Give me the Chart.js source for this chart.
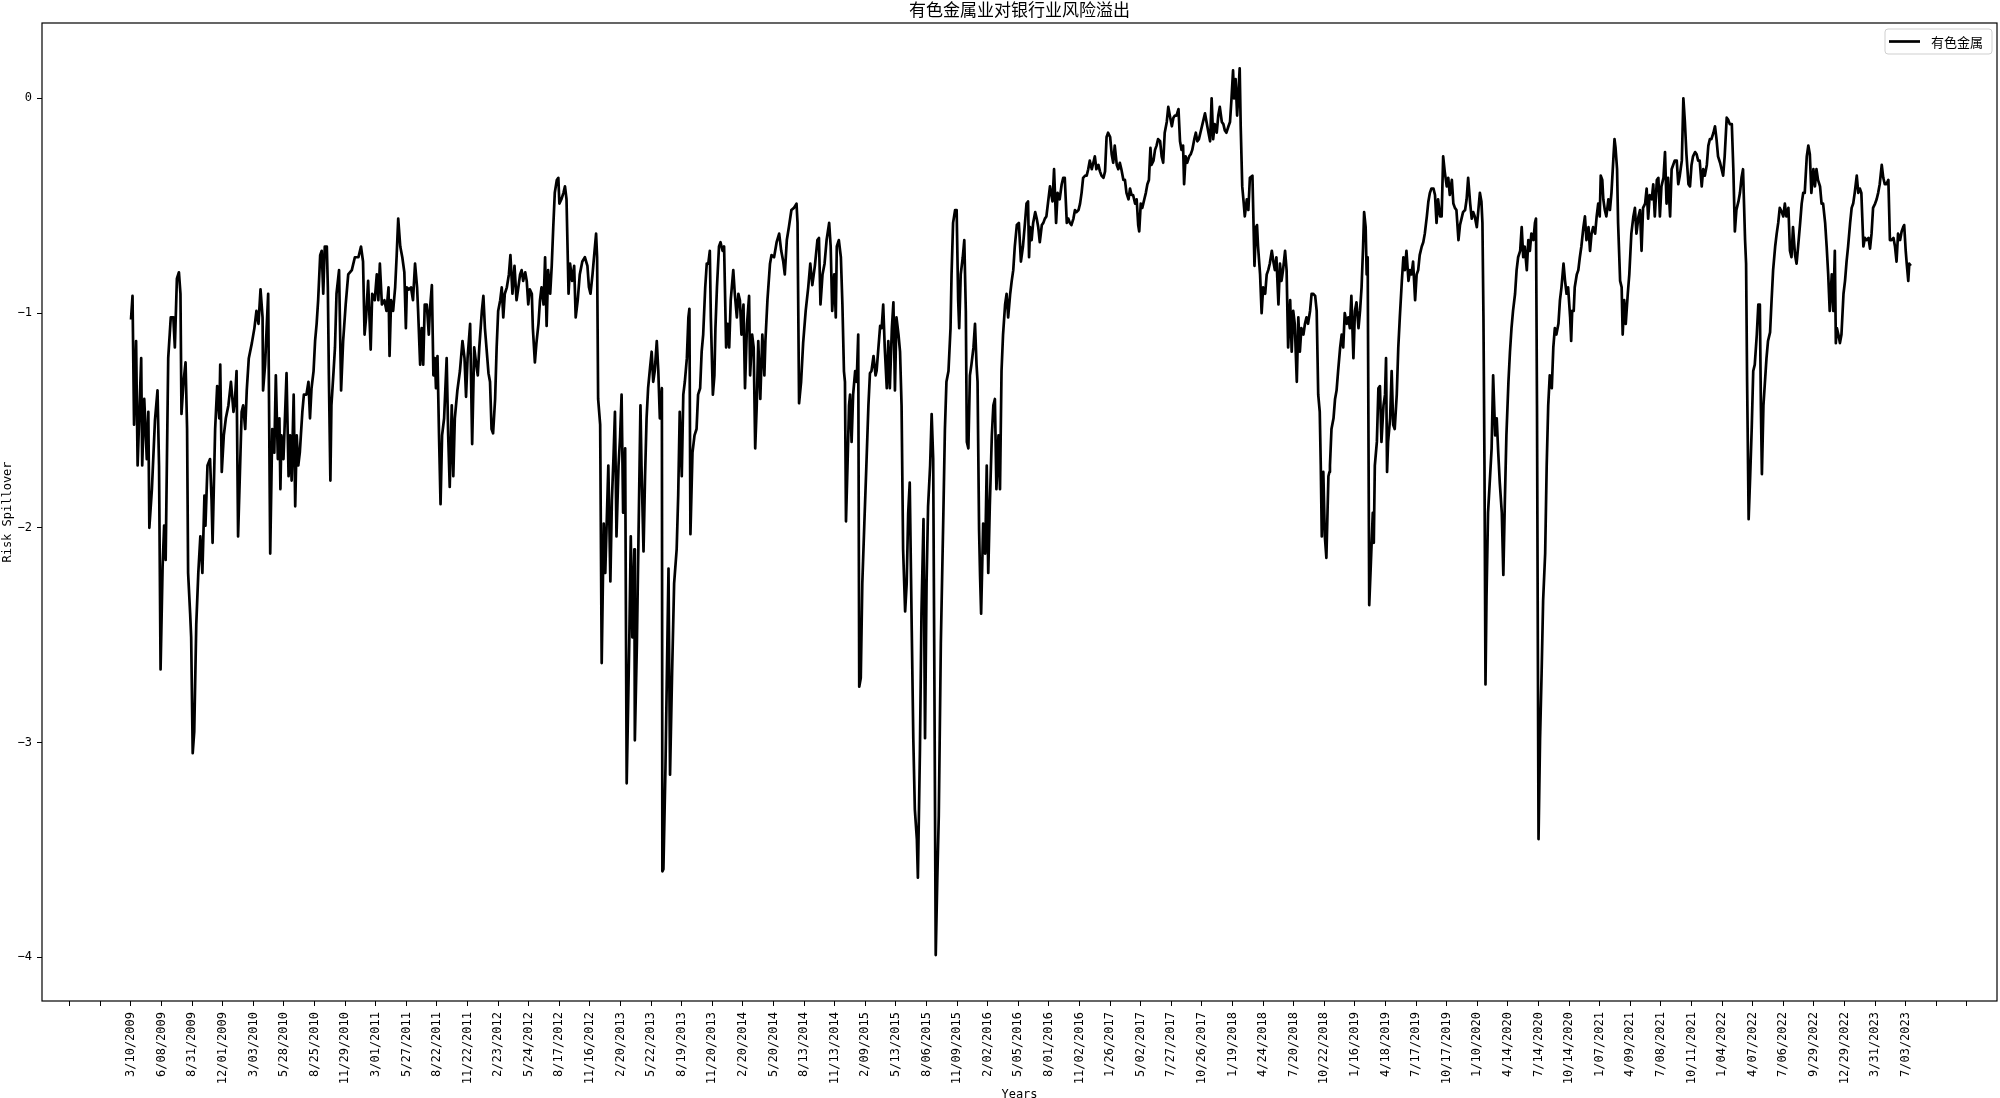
<!DOCTYPE html>
<html>
<head>
<meta charset="utf-8">
<title>有色金属业对银行业风险溢出</title>
<script src="https://cdn.jsdelivr.net/npm/chart.js@4.4.1/dist/chart.umd.min.js"></script>
<style>
  html, body { margin: 0; padding: 0; background: #fff; }
  #wrap { width: 2000px; height: 1098px; }
</style>
</head>
<body>
<div id="wrap"><canvas id="spilloverChart" width="2000" height="1098"></canvas></div>
<script>
// quarterly tick labels, one every 60 trading days starting at day 0
const dateLabels = [
    '3/10/2009', '6/08/2009', '8/31/2009', '12/01/2009', '3/03/2010', '5/28/2010', '8/25/2010', '11/29/2010',
    '3/01/2011', '5/27/2011', '8/22/2011', '11/22/2011', '2/23/2012', '5/24/2012', '8/17/2012', '11/16/2012',
    '2/20/2013', '5/22/2013', '8/19/2013', '11/20/2013', '2/20/2014', '5/20/2014', '8/13/2014', '11/13/2014',
    '2/09/2015', '5/13/2015', '8/06/2015', '11/09/2015', '2/02/2016', '5/05/2016', '8/01/2016', '11/02/2016',
    '1/26/2017', '5/02/2017', '7/27/2017', '10/26/2017', '1/19/2018', '4/24/2018', '7/20/2018', '10/22/2018',
    '1/16/2019', '4/18/2019', '7/17/2019', '10/17/2019', '1/10/2020', '4/14/2020', '7/14/2020', '10/14/2020',
    '1/07/2021', '4/09/2021', '7/08/2021', '10/11/2021', '1/04/2022', '4/07/2022', '7/06/2022', '9/29/2022',
    '12/29/2022', '3/31/2023', '7/03/2023'
];
const tickEvery = 60;

// trading-day index / spillover value (2009-2011)
const days1 = [
    0,3,6,10,13,20,22,26,31,34,
    36,41,47,52,55,58,62,65,68,73,
    78,83,86,90,94,97,99,103,107,110,
    112,116,118,121,124,128,132,136,140,144,
    146,150,155,158,160,165,169,173,175,178,
    182,186,191,196,201,204,207,210,214,217,
    220,224,227,231,237,242,246,250,254,258,
    259,263,266,269,273,277,281,284,288,291,
    293,295,299,305,309,312,315,319,322,325,
    328,331,336,339,344,348,351,354,358,361,
    364,367,371,374,377,380,384,386,388,391,
    393,397,400,403,408,412,416,421,426,433,
    439,446,451,455,458,461,465,470,473,478,
    482,485,488,492,497,501,505,507,510,514,
    518,521,524,528,532,536,539,541,545,549,
    553,557,561,563,567,570,573,576,580,584
];
const vals1 = [
    -1.03,-0.92,-1.52,-1.13,-1.71,-1.21,-1.71,-1.40,-1.68,-1.46,
    -2.00,-1.82,-1.50,-1.36,-1.71,-2.66,-2.18,-1.99,-2.15,-1.21,
    -1.02,-1.02,-1.16,-0.84,-0.81,-0.91,-1.47,-1.32,-1.23,-1.54,
    -2.21,-2.40,-2.51,-3.05,-2.95,-2.45,-2.21,-2.04,-2.21,-1.85,
    -1.99,-1.71,-1.68,-1.87,-2.07,-1.54,-1.34,-1.49,-1.24,-1.74,
    -1.57,-1.49,-1.43,-1.32,-1.46,-1.40,-1.27,-2.04,-1.71,-1.46,
    -1.43,-1.54,-1.36,-1.21,-1.14,-1.07,-0.99,-1.05,-0.89,-1.02,
    -1.36,-1.24,-1.07,-0.91,-2.12,-1.54,-1.65,-1.29,-1.68,-1.49,
    -1.82,-1.57,-1.68,-1.28,-1.76,-1.57,-1.78,-1.38,-1.90,-1.57,
    -1.71,-1.65,-1.46,-1.38,-1.38,-1.32,-1.49,-1.35,-1.27,-1.13,
    -1.05,-0.94,-0.73,-0.71,-0.91,-0.69,-0.69,-0.88,-1.29,-1.78,
    -1.43,-1.28,-1.16,-0.91,-0.80,-1.36,-1.13,-0.96,-0.82,-0.80,
    -0.74,-0.74,-0.69,-0.76,-1.10,-1.02,-0.85,-1.17,-0.91,-0.94,
    -0.82,-0.94,-0.77,-0.96,-0.94,-0.99,-0.88,-1.20,-0.94,-0.99,
    -0.88,-0.73,-0.56,-0.69,-0.74,-0.81,-1.07,-0.88,-0.89,-0.88,
    -0.94,-0.77,-0.88,-0.99,-1.24,-1.07,-1.24,-0.96,-0.96,-1.10
];

// 2011-2013
const days2 = [
    586,590,593,596,598,601,604,607,610,614,
    619,622,625,629,632,635,640,645,650,654,
    657,660,665,669,673,677,680,683,688,691,
    694,697,701,704,707,710,714,717,720,724,
    727,730,733,737,741,744,748,752,756,759,
    763,766,769,773,776,779,782,786,788,792,
    795,799,802,805,809,812,815,818,822,825,
    828,831,835,838,840,844,848,851,854,858,
    861,865,869,872,876,880,885,890,895,898,
    901,905,909,912,914,916,920,923,927,930,
    933,936,940,943,946,949,952,956,959,962,
    965,969,972,977,980,983,987,988,992,995,
    999,1001,1005,1008,1011,1014,1018,1021,1024,1027,
    1031,1034,1037,1041,1042,1044,1048,1054,1057,1061,
    1065,1070,1073,1076,1080,1083,1086,1090,1093,1095,
    1097,1101,1105,1109,1112,1116,1119,1122,1126,1129,
    1132,1135,1137,1141,1144,1146,1149,1153,1156,1160,
    1163
];
const vals2 = [
    -0.99,-0.87,-1.29,-1.21,-1.35,-1.20,-1.57,-1.89,-1.57,-1.49,
    -1.21,-1.57,-1.81,-1.43,-1.76,-1.49,-1.36,-1.27,-1.13,-1.21,
    -1.39,-1.21,-1.05,-1.61,-1.16,-1.24,-1.29,-1.16,-0.99,-0.92,
    -1.07,-1.16,-1.28,-1.32,-1.54,-1.56,-1.40,-1.16,-0.99,-0.94,
    -0.88,-1.02,-0.91,-0.88,-0.82,-0.73,-0.91,-0.78,-0.94,-0.89,
    -0.82,-0.80,-0.85,-0.81,-0.85,-0.96,-0.89,-0.91,-1.07,-1.23,
    -1.14,-1.05,-0.94,-0.88,-0.96,-0.74,-1.06,-0.80,-0.91,-0.78,
    -0.60,-0.44,-0.38,-0.37,-0.49,-0.47,-0.44,-0.41,-0.47,-0.91,
    -0.77,-0.85,-0.78,-1.02,-0.94,-0.82,-0.76,-0.74,-0.78,-0.88,
    -0.91,-0.82,-0.71,-0.63,-0.74,-1.40,-1.52,-2.63,-1.98,-2.21,
    -1.96,-1.71,-2.25,-1.87,-1.68,-1.46,-2.04,-1.71,-1.58,-1.38,
    -1.93,-1.63,-3.19,-2.54,-2.04,-2.51,-2.10,-2.99,-2.54,-2.07,
    -1.43,-1.71,-2.11,-1.76,-1.49,-1.35,-1.25,-1.18,-1.32,-1.27,
    -1.13,-1.27,-1.49,-1.35,-3.60,-3.59,-3.12,-2.19,-3.15,-2.68,
    -2.26,-2.10,-1.85,-1.46,-1.76,-1.38,-1.32,-1.21,-1.02,-0.98,
    -2.03,-1.65,-1.57,-1.54,-1.38,-1.35,-1.18,-1.10,-0.88,-0.77,
    -0.77,-0.71,-1.02,-1.38,-1.29,-1.07,-0.88,-0.69,-0.67,-0.71,
    -0.69
];

// 2013-2016
const days3 = [
    1167,1170,1173,1176,1181,1184,1188,1191,1194,1197,
    1201,1204,1208,1212,1214,1218,1221,1224,1227,1230,
    1234,1238,1242,1244,1248,1253,1256,1261,1266,1271,
    1275,1279,1282,1286,1290,1295,1300,1305,1307,1310,
    1314,1318,1323,1328,1332,1336,1341,1346,1349,1352,
    1356,1360,1364,1369,1372,1375,1379,1382,1384,1388,
    1392,1395,1398,1400,1402,1405,1408,1410,1413,1416,
    1420,1423,1426,1428,1431,1434,1438,1442,1446,1449,
    1452,1456,1460,1462,1465,1469,1472,1475,1478,1482,
    1485,1488,1492,1495,1498,1501,1505,1508,1511,1514,
    1518,1521,1524,1527,1531,1534,1537,1541,1543,1547,
    1550,1554,1557,1560,1563,1567,1570,1573,1575,1578,
    1581,1584,1588,1593,1596,1599,1603,1607,1609,1612,
    1616,1619,1622,1624,1627,1631,1634,1637,1639,1642,
    1645,1648,1652,1655,1658,1660,1663,1665,1667,1671,
    1675,1678,1681,1684,1688,1691,1694,1697,1701,1704,
    1707,1710,1714,1717,1720,1724,1727,1730,1733,1737,
    1741,1745,1749,1753,1756,1759,1761
];
const vals3 = [
    -1.16,-1.05,-1.16,-0.94,-0.80,-0.91,-1.02,-0.91,-0.94,-1.10,
    -0.96,-1.35,-1.05,-0.92,-1.29,-1.10,-1.16,-1.63,-1.43,-1.13,
    -1.40,-1.10,-1.29,-1.13,-0.94,-0.77,-0.73,-0.74,-0.67,-0.63,
    -0.71,-0.76,-0.82,-0.66,-0.60,-0.52,-0.51,-0.49,-0.58,-1.42,
    -1.32,-1.14,-0.99,-0.88,-0.77,-0.87,-0.78,-0.66,-0.65,-0.96,
    -0.82,-0.77,-0.66,-0.58,-0.69,-0.99,-0.82,-1.02,-0.69,-0.66,
    -0.74,-0.96,-1.27,-1.32,-1.97,-1.71,-1.43,-1.38,-1.60,-1.38,
    -1.27,-1.32,-1.10,-2.74,-2.70,-2.26,-1.98,-1.71,-1.43,-1.28,
    -1.27,-1.20,-1.29,-1.27,-1.18,-1.06,-1.07,-0.96,-1.16,-1.35,
    -1.13,-1.35,-1.07,-0.95,-1.36,-1.02,-1.10,-1.18,-1.43,-2.10,
    -2.39,-2.26,-1.93,-1.79,-2.48,-2.98,-3.31,-3.45,-3.63,-3.04,
    -2.40,-1.96,-2.98,-2.26,-1.90,-1.71,-1.47,-1.68,-2.54,-3.99,
    -3.64,-3.34,-2.54,-1.93,-1.54,-1.32,-1.27,-1.07,-0.82,-0.58,
    -0.52,-0.52,-0.94,-1.07,-0.82,-0.74,-0.66,-0.99,-1.60,-1.63,
    -1.29,-1.24,-1.16,-1.05,-1.24,-1.32,-2.01,-2.23,-2.40,-1.98,
    -2.12,-1.71,-2.21,-1.90,-1.57,-1.43,-1.40,-1.82,-1.57,-1.82,
    -1.27,-1.10,-0.96,-0.91,-1.02,-0.91,-0.85,-0.80,-0.69,-0.59,
    -0.58,-0.76,-0.69,-0.58,-0.49,-0.48,-0.74
];

// 2016-2018
const days4 = [
    1763,1766,1769,1773,1776,1779,1782,1786,1789,1792,
    1795,1799,1802,1807,1810,1814,1817,1821,1825,1828,
    1831,1835,1838,1841,1844,1848,1851,1854,1858,1861,
    1864,1867,1871,1874,1877,1880,1884,1887,1890,1893,
    1897,1900,1903,1907,1910,1913,1916,1920,1923,1926,
    1929,1933,1936,1939,1942,1946,1949,1952,1956,1959,
    1962,1965,1969,1972,1975,1977,1980,1983,1987,1990,
    1993,1996,1999,2001,2005,2008,2011,2014,2018,2021,
    2024,2027,2031,2034,2037,2041,2044,2047,2050,2054,
    2057,2060,2063,2065,2068,2071,2075,2078,2081,2085,
    2088,2091,2094,2097,2101,2106,2109,2112,2116,2119,
    2122,2125,2129,2132,2135,2139,2142,2145,2148,2152,
    2155,2158,2161,2163,2166,2169,2171,2174,2176,2179,
    2182,2184,2188,2191,2194,2199,2203,2206,2208,2210,
    2214,2217,2220,2224,2227,2230,2233,2237,2240,2243,
    2246,2250,2253,2256,2259,2263,2266,2269,2273,2276,
    2279,2282,2286,2289,2292,2295,2299,2302,2305,2308,
    2312,2315,2318,2322,2325,2328,2331,2333,2335,2338,
    2341,2344,2348,2350
];
const vals4 = [
    -0.60,-0.66,-0.58,-0.53,-0.56,-0.60,-0.67,-0.59,-0.58,-0.56,
    -0.55,-0.47,-0.41,-0.48,-0.33,-0.58,-0.44,-0.47,-0.40,-0.37,
    -0.37,-0.58,-0.56,-0.58,-0.59,-0.56,-0.52,-0.53,-0.52,-0.49,
    -0.44,-0.37,-0.36,-0.36,-0.33,-0.29,-0.33,-0.30,-0.27,-0.33,
    -0.31,-0.34,-0.36,-0.37,-0.34,-0.18,-0.16,-0.18,-0.26,-0.30,
    -0.22,-0.31,-0.33,-0.30,-0.33,-0.38,-0.38,-0.44,-0.47,-0.42,
    -0.45,-0.45,-0.49,-0.47,-0.59,-0.62,-0.49,-0.51,-0.47,-0.44,
    -0.40,-0.38,-0.23,-0.31,-0.29,-0.24,-0.22,-0.19,-0.20,-0.27,
    -0.30,-0.16,-0.11,-0.04,-0.08,-0.13,-0.09,-0.08,-0.08,-0.05,
    -0.20,-0.24,-0.22,-0.40,-0.27,-0.30,-0.27,-0.26,-0.24,-0.19,
    -0.16,-0.20,-0.19,-0.16,-0.12,-0.07,-0.11,-0.15,-0.20,0.00,
    -0.19,-0.12,-0.16,-0.08,-0.04,-0.11,-0.12,-0.15,-0.16,-0.13,
    -0.11,0.00,0.13,0.00,0.09,-0.08,0.00,0.14,-0.13,-0.41,
    -0.49,-0.55,-0.47,-0.52,-0.37,-0.36,-0.78,-0.60,-0.59,-0.69,
    -0.82,-1.00,-0.88,-0.91,-0.82,-0.80,-0.77,-0.71,-0.76,-0.80,
    -0.74,-0.96,-0.77,-0.85,-0.80,-0.71,-0.80,-1.16,-0.94,-1.18,
    -0.99,-1.05,-1.32,-1.02,-1.18,-1.07,-1.10,-1.05,-1.02,-1.05,
    -0.99,-0.91,-0.91,-0.92,-0.99,-1.38,-1.46,-1.71,-2.04,-1.74,
    -2.04,-2.14,-1.76,-1.74
];

// 2018-2021
const days5 = [
    2351,2354,2358,2361,2364,2367,2371,2374,2377,2380,
    2384,2387,2390,2393,2397,2400,2403,2407,2410,2413,
    2416,2418,2421,2423,2425,2428,2431,2435,2437,2439,
    2443,2446,2449,2452,2456,2459,2461,2463,2465,2469,
    2472,2475,2478,2482,2485,2488,2492,2495,2498,2501,
    2505,2508,2511,2514,2518,2521,2524,2527,2531,2534,
    2537,2541,2544,2547,2550,2554,2557,2560,2563,2567,
    2570,2573,2576,2580,2583,2586,2590,2593,2596,2599,
    2603,2606,2609,2612,2616,2619,2622,2626,2629,2632,
    2635,2639,2642,2645,2648,2650,2652,2654,2656,2658,
    2661,2665,2668,2671,2675,2678,2681,2684,2688,2691,
    2694,2697,2701,2704,2707,2710,2714,2717,2720,2724,
    2727,2730,2733,2737,2740,2743,2746,2750,2753,2755,
    2757,2760,2763,2766,2769,2773,2776,2779,2782,2786,
    2789,2792,2795,2799,2802,2805,2809,2812,2815,2818,
    2822,2824,2826,2829,2831,2835,2838,2841,2844,2848,
    2851,2854,2858,2861,2864,2867,2871,2874,2877,2880,
    2882,2885,2887,2890,2893,2897,2900,2903,2907,2909,
    2911,2914,2916,2920,2923,2925,2928,2931,2935,2938
];
const vals5 = [
    -1.71,-1.54,-1.49,-1.40,-1.36,-1.27,-1.16,-1.10,-1.16,-1.00,
    -1.05,-1.02,-1.07,-0.92,-1.21,-0.99,-0.95,-1.07,-0.99,-0.88,
    -0.69,-0.53,-0.60,-0.82,-0.74,-2.36,-2.18,-1.93,-2.07,-1.71,
    -1.60,-1.35,-1.34,-1.60,-1.43,-1.38,-1.21,-1.74,-1.60,-1.49,
    -1.27,-1.52,-1.54,-1.38,-1.16,-1.02,-0.85,-0.74,-0.80,-0.71,
    -0.85,-0.80,-0.82,-0.76,-0.94,-0.82,-0.80,-0.73,-0.69,-0.67,
    -0.63,-0.55,-0.48,-0.44,-0.42,-0.42,-0.45,-0.58,-0.47,-0.55,
    -0.55,-0.27,-0.34,-0.41,-0.37,-0.45,-0.38,-0.49,-0.51,-0.52,
    -0.66,-0.59,-0.56,-0.53,-0.52,-0.47,-0.37,-0.49,-0.56,-0.53,
    -0.55,-0.60,-0.52,-0.44,-0.48,-0.58,-1.02,-1.71,-2.73,-2.32,
    -1.93,-1.76,-1.63,-1.29,-1.57,-1.49,-1.65,-1.79,-1.93,-2.22,
    -1.87,-1.57,-1.32,-1.18,-1.07,-0.99,-0.91,-0.80,-0.74,-0.71,
    -0.60,-0.74,-0.69,-0.80,-0.66,-0.71,-0.63,-0.66,-0.58,-0.56,
    -1.43,-3.45,-2.98,-2.68,-2.34,-2.12,-1.71,-1.43,-1.29,-1.35,
    -1.16,-1.07,-1.10,-1.05,-0.94,-0.88,-0.77,-0.85,-0.91,-0.88,
    -1.02,-1.13,-0.99,-0.99,-0.88,-0.82,-0.80,-0.74,-0.69,-0.60,
    -0.55,-0.66,-0.60,-0.71,-0.63,-0.60,-0.63,-0.55,-0.49,-0.55,
    -0.36,-0.38,-0.47,-0.52,-0.55,-0.47,-0.52,-0.44,-0.27,-0.19,
    -0.23,-0.33,-0.58,-0.85,-0.88,-1.10,-0.94,-1.05,-0.91,-0.82
];

// 2021-2023
const days6 = [
    2942,2946,2949,2952,2956,2959,2962,2965,2969,2972,
    2975,2978,2982,2985,2988,2992,2995,2998,3001,3005,
    3008,3011,3014,3018,3021,3024,3027,3031,3034,3037,
    3041,3044,3047,3050,3054,3057,3060,3063,3067,3070,
    3073,3076,3080,3083,3086,3090,3093,3096,3099,3103,
    3106,3109,3112,3116,3119,3122,3125,3129,3132,3135,
    3139,3142,3145,3148,3152,3155,3158,3161,3165,3167,
    3169,3172,3175,3178,3181,3184,3188,3191,3194,3196,
    3198,3201,3204,3207,3210,3214,3217,3220,3224,3227,
    3230,3233,3237,3240,3243,3246,3250,3253,3256,3259,
    3263,3266,3269,3273,3276,3279,3282,3286,3289,3292,
    3295,3299,3302,3305,3308,3312,3315,3318,3322,3325,
    3328,3331,3335,3338,3341,3343,3345,3348,3351,3354,
    3358,3361,3364,3367,3371,3374,3377,3380,3384,3387,
    3390,3393,3397,3400,3403,3407,3410,3413,3416,3420,
    3423,3426,3429,3433,3436,3439,3442,3446,3449,3452,
    3456,3459,3462,3465,3469,3472,3475,3477,3480,3482,
    3485,3487,3490
];
const vals6 = [
    -0.63,-0.55,-0.51,-0.63,-0.55,-0.52,-0.71,-0.51,-0.49,-0.42,
    -0.56,-0.45,-0.47,-0.40,-0.55,-0.38,-0.37,-0.55,-0.41,-0.37,
    -0.25,-0.49,-0.37,-0.55,-0.33,-0.31,-0.29,-0.29,-0.40,-0.36,
    -0.29,0.00,-0.11,-0.26,-0.40,-0.41,-0.31,-0.27,-0.25,-0.26,
    -0.29,-0.29,-0.41,-0.33,-0.36,-0.31,-0.22,-0.19,-0.19,-0.16,
    -0.13,-0.19,-0.27,-0.30,-0.33,-0.36,-0.27,-0.09,-0.10,-0.12,
    -0.12,-0.33,-0.62,-0.52,-0.48,-0.44,-0.37,-0.33,-0.66,-0.77,
    -1.32,-1.96,-1.76,-1.54,-1.27,-1.24,-1.10,-0.96,-0.96,-1.43,
    -1.75,-1.43,-1.32,-1.21,-1.13,-1.09,-0.94,-0.80,-0.69,-0.63,
    -0.58,-0.51,-0.53,-0.55,-0.49,-0.55,-0.51,-0.71,-0.74,-0.60,
    -0.73,-0.77,-0.69,-0.58,-0.49,-0.44,-0.44,-0.27,-0.22,-0.26,
    -0.44,-0.33,-0.41,-0.33,-0.38,-0.41,-0.49,-0.49,-0.58,-0.69,
    -0.82,-0.99,-0.82,-0.99,-0.71,-1.14,-1.07,-1.10,-1.14,-1.10,
    -0.91,-0.85,-0.76,-0.69,-0.58,-0.51,-0.49,-0.44,-0.36,-0.44,
    -0.42,-0.44,-0.69,-0.65,-0.66,-0.65,-0.70,-0.63,-0.51,-0.49,
    -0.47,-0.44,-0.40,-0.31,-0.37,-0.40,-0.40,-0.38,-0.66,-0.66,
    -0.65,-0.69,-0.76,-0.63,-0.66,-0.62,-0.60,-0.59,-0.71,-0.77,
    -0.85,-0.77,-0.78
];

const tradingDay = days1.concat(days2, days3, days4, days5, days6);
const spillover = vals1.concat(vals2, vals3, vals4, vals5, vals6);

const MONO = 'DejaVu Sans Mono';
const CJK = '"Noto Sans CJK SC", "Noto Sans CJK JP", sans-serif';

// matplotlib-style closed frame around the plot area
const framePlugin = {
    id: 'frame',
    afterDatasetsDraw(chart) {
        const {ctx, chartArea: a} = chart;
        ctx.save();
        ctx.strokeStyle = '#000';
        ctx.lineWidth = 1.2;
        ctx.strokeRect(a.left, a.top, a.right - a.left, a.bottom - a.top);
        ctx.restore();
    }
};

// title centred over the axes, plus the boxed legend in the upper right
const titleLegendPlugin = {
    id: 'titleLegend',
    afterDraw(chart) {
        const {ctx, chartArea: a} = chart;
        const ds = chart.data.datasets[0];
        ctx.save();

        ctx.fillStyle = '#000';
        ctx.font = '17px ' + CJK;
        ctx.textAlign = 'center';
        ctx.textBaseline = 'middle';
        ctx.fillText('有色金属业对银行业风险溢出', (a.left + a.right) / 2, 10);

        const w = 107, h = 25;
        const x = a.right - 5 - w, y = a.top + 6;
        ctx.beginPath();
        ctx.roundRect(x, y, w, h, 3);
        ctx.fillStyle = 'rgba(255,255,255,0.8)';
        ctx.fill();
        ctx.strokeStyle = '#cfcfcf';
        ctx.lineWidth = 1;
        ctx.stroke();

        ctx.beginPath();
        ctx.moveTo(x + 4, y + h / 2);
        ctx.lineTo(x + 35, y + h / 2);
        ctx.strokeStyle = ds.borderColor;
        ctx.lineWidth = ds.borderWidth;
        ctx.stroke();

        ctx.fillStyle = '#000';
        ctx.font = '13px ' + CJK;
        ctx.textAlign = 'left';
        ctx.fillText(ds.label, x + 46, y + h / 2 + 1);
        ctx.restore();
    }
};

function xTickLabel(value) {
    const k = Math.round(value / tickEvery);
    return (k >= 0 && k < dateLabels.length) ? dateLabels[k] : '';
}

function yTickLabel(value) {
    return value < 0 ? '\u2212' + Math.abs(value) : String(value);
}

new Chart(document.getElementById('spilloverChart'), {
    type: 'line',
    data: {
        datasets: [{
            label: '有色金属',
            data: tradingDay.map((d, i) => ({x: d, y: spillover[i]})),
            borderColor: '#000',
            borderWidth: 2.7,
            borderJoinStyle: 'round',
            pointRadius: 0,
            tension: 0,
            fill: false
        }]
    },
    options: {
        responsive: false,
        animation: false,
        devicePixelRatio: 1,
        events: [],
        layout: {padding: {top: 23, right: 3, left: 0, bottom: 0}},
        plugins: {
            legend: {display: false},
            title: {display: false},
            tooltip: {enabled: false}
        },
        scales: {
            x: {
                type: 'linear',
                min: -174.5,
                max: 3659,
                afterFit(scale) { scale.height = 97; },
                border: {display: false},
                grid: {drawOnChartArea: false, drawTicks: true, tickLength: 5, color: '#000', lineWidth: 1},
                ticks: {
                    stepSize: tickEvery,
                    includeBounds: false,
                    autoSkip: false,
                    minRotation: 90,
                    maxRotation: 90,
                    padding: 6,
                    color: '#000',
                    font: {family: MONO, size: 12},
                    callback: xTickLabel
                },
                title: {
                    display: true,
                    text: 'Years',
                    color: '#000',
                    font: {family: MONO, size: 12, lineHeight: 1},
                    padding: {top: 0, bottom: -3}
                }
            },
            y: {
                min: -4.204,
                max: 0.351,
                afterFit(scale) { scale.width = 42; },
                border: {display: false},
                grid: {drawOnChartArea: false, drawTicks: true, tickLength: 5, color: '#000', lineWidth: 1},
                ticks: {
                    stepSize: 1,
                    includeBounds: false,
                    padding: 5,
                    color: '#000',
                    font: {family: MONO, size: 12},
                    callback: yTickLabel
                },
                title: {
                    display: true,
                    text: 'Risk Spillover',
                    color: '#000',
                    font: {family: MONO, size: 12, lineHeight: 1.2},
                    padding: {top: 1, bottom: 0}
                }
            }
        }
    },
    plugins: [framePlugin, titleLegendPlugin]
});
</script>
</body>
</html>
